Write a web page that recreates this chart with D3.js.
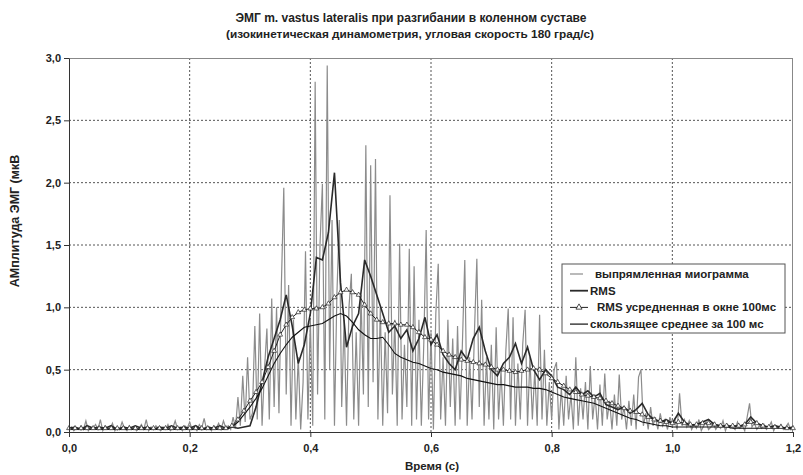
<!DOCTYPE html>
<html>
<head>
<meta charset="utf-8">
<script src="https://cdn.jsdelivr.net/npm/d3@7"></script>
<style>
  body { margin: 0; background: #fff; }
  text { font-family: "Liberation Sans", Arial, sans-serif; }
</style>
</head>
<body>
<div id="chart"></div>
<script>
// Данные

const rawStep = 0.004
const raw = [
  0.02,0.04,0.01,0.03,0.02,0.05,0.02,0.09,0.01,0.04,
  0.03,0.06,0.02,0.1,0.01,0.05,0.03,0.02,0.07,0.01,
  0.04,0.02,0.08,0.03,0.01,0.05,0.02,0.04,0.01,0.03,
  0.06,0.02,0.1,0.01,0.04,0.02,0.05,0.03,0.01,0.04,
  0.02,0.06,0.01,0.03,0.09,0.02,0.04,0.01,0.05,0.03,
  0.08,0.02,0.04,0.01,0.06,0.03,0.11,0.02,0.04,0.01,
  0.05,0.03,0.07,0.02,0.09,0.03,0.05,0.02,
  0.12,0.03,0.28,0.05,0.45,0.08,0.6,0.1,
  0.15,0.85,0.1,0.95,0.05,0.5,0.83,0.1,1.07,0.2,
  1.0,0.15,1.18,1.96,0.3,1.18,0.05,0.9,0.1,0.6,
  0.02,0.4,1.45,0.1,0.9,0.05,2.81,0.3,1.5,1.99,
  0.1,2.94,0.5,1.7,0.05,
  1.1,1.7,0.2,0.9,0.05,1.0,1.27,0.1,0.8,0.05,
  1.1,0.3,2.3,0.2,2.14,0.4,2.19,0.1,1.0,0.05,
  0.8,0.15,1.9,0.3,0.9,0.05,1.51,0.1,0.7,0.2,
  1.47,0.05,1.33,0.1,0.9,0.05,0.7,1.62,0.1,0.8,
  0.02,0.95,1.35,0.1,0.6,0.05,0.9,0.2,0.75,0.05,
  0.85,0.1,0.7,1.38,0.05,0.6,0.1,0.8,1.39,0.2,
  1.06,0.05,0.6,0.1,0.7,0.02,0.84,0.1,0.5,0.05,
  0.65,0.99,0.1,0.92,0.05,0.55,0.1,0.7,0.98,0.05,
  0.6,0.1,0.5,0.05,0.94,0.1,0.66,0.05,0.4,0.1,
  0.5,0.56,0.02,0.35,0.05,0.45,0.1,0.3,0.02,0.6,
  0.05,0.35,0.1,0.4,0.02,0.53,0.1,0.3,0.02,0.38,
  0.05,0.47,0.1,0.25,0.02,0.3,0.05,0.46,0.1,0.2,
  0.02,0.25,0.05,0.3,0.02,0.44,0.5,0.05,0.15,0.02,
  0.2,0.05,0.12,0.02,0.15,0.05,0.1,0.02,0.12,0.05,
  0.1,0.02,0.31,0.05,0.1,
  0.04,0.09,0.02,0.06,0.03,0.1,0.01,0.05,0.08,0.02,
  0.04,0.07,0.02,0.05,0.03,0.09,0.01,0.06,0.03,0.04,
  0.02,0.08,0.03,0.05,0.01,0.12,0.23,0.04,0.07,0.02,
  0.05,0.03,0.06,0.02,0.04,0.08,0.01,0.05,0.03,0.06,
  0.02,0.04,0.07,0.02,0.05
]

const smoothStep = 0.01
const rms = [
  0.03,0.04,0.02,0.05,0.03,0.04,0.03,0.05,0.02,0.04,
  0.03,0.05,0.03,0.04,0.02,0.04,0.03,0.05,0.03,0.04,
  0.03,0.05,0.02,0.04,0.03,0.05,0.03,0.04,0.03,0.04,
  0.05,0.2,0.4,0.6,0.75,0.9,1.1,0.85,0.55,0.7,
  0.95,1.4,1.38,1.6,2.08,1.2,0.68,0.85,0.95,1.38,
  1.25,1.1,0.95,0.8,0.85,0.75,0.82,0.65,0.75,0.92,
  0.7,0.78,0.62,0.55,0.5,0.65,0.58,0.75,0.84,0.65,
  0.5,0.45,0.55,0.6,0.71,0.55,0.68,0.5,0.42,0.5,
  0.45,0.36,0.34,0.3,0.36,0.3,0.33,0.28,0.31,0.22,
  0.2,0.18,0.2,0.15,0.18,0.23,0.14,0.1,0.08,0.1,
  0.07,0.15,0.08,0.05,0.06,0.08,0.1,0.06,0.05,0.04,
  0.05,0.04,0.06,0.12,0.07,0.05,0.04,0.05,0.04,0.03,
  0.04
]
const rmsAvg = [
  0.03,0.03,0.03,0.03,0.03,0.03,0.03,0.03,0.03,0.03,
  0.03,0.03,0.03,0.03,0.03,0.03,0.03,0.03,0.03,0.03,
  0.03,0.03,0.03,0.03,0.03,0.03,0.03,0.05,0.1,0.17,
  0.25,0.32,0.4,0.52,0.65,0.78,0.86,0.92,0.96,0.98,
  0.99,0.99,1.0,1.03,1.08,1.12,1.14,1.12,1.1,1.02,
  0.95,0.9,0.88,0.87,0.87,0.86,0.86,0.84,0.8,0.76,
  0.74,0.7,0.65,0.62,0.6,0.58,0.57,0.56,0.55,0.54,
  0.52,0.5,0.5,0.49,0.48,0.49,0.5,0.51,0.5,0.47,
  0.43,0.4,0.37,0.34,0.32,0.3,0.29,0.28,0.27,0.25,
  0.23,0.21,0.19,0.17,0.16,0.14,0.12,0.1,0.09,0.08,
  0.07,0.08,0.07,0.06,0.06,0.07,0.07,0.06,0.05,0.05,
  0.05,0.05,0.06,0.08,0.07,0.05,0.04,0.04,0.04,0.03,
  0.03
]
const movAvg = [
  0.02,0.02,0.02,0.02,0.02,0.02,0.02,0.02,0.02,0.02,
  0.02,0.02,0.02,0.02,0.02,0.02,0.02,0.02,0.02,0.02,
  0.02,0.02,0.02,0.02,0.02,0.02,0.02,0.04,0.08,0.14,
  0.2,0.27,0.35,0.45,0.55,0.63,0.7,0.76,0.8,0.84,
  0.85,0.86,0.87,0.9,0.93,0.95,0.93,0.88,0.82,0.78,
  0.75,0.75,0.76,0.7,0.63,0.6,0.58,0.56,0.55,0.53,
  0.51,0.5,0.48,0.47,0.46,0.45,0.43,0.42,0.41,0.4,
  0.39,0.38,0.38,0.37,0.36,0.36,0.36,0.35,0.35,0.34,
  0.32,0.3,0.28,0.27,0.26,0.25,0.24,0.23,0.21,0.19,
  0.17,0.15,0.13,0.11,0.1,0.08,0.07,0.06,0.05,0.05,
  0.04,0.04,0.04,0.04,0.04,0.04,0.04,0.04,0.04,0.04,
  0.03,0.03,0.03,0.03,0.03,0.03,0.03,0.03,0.03,0.03,
  0.03
]

const xTicks = [0, 0.2, 0.4, 0.6, 0.8, 1.0, 1.2]
const yTicks = [0, 0.5, 1.0, 1.5, 2.0, 2.5, 3.0]
const legendLabels = ["выпрямленная миограмма", "RMS", "RMS усредненная в окне 100мс", "скользящее среднее за 100 мс"]

// Размеры

const width = 803
const height = 475
const margin = {top: 58, right: 10, bottom: 43, left: 69}
const innerW = width - margin.left - margin.right
const innerH = height - margin.top - margin.bottom

const svg = d3.select("#chart").append("svg").attr("width", width).attr("height", height)
const g = svg.append("g").attr("transform", `translate(${margin.left},${margin.top})`)

const x = d3.scaleLinear().domain([0, 1.2]).range([0, innerW])
const y = d3.scaleLinear().domain([0, 3]).range([innerH, 0])
const fmt = v => d3.format(".1f")(v).replace(".", ",")

// Сетка

g.append("g").selectAll("line").data(yTicks.filter(d => d > 0 && d < 3))
  .join("line")
    .attr("x1", 0).attr("x2", innerW)
    .attr("y1", d => y(d)).attr("y2", d => y(d))
    .attr("stroke", "#555").attr("stroke-dasharray", "2,2")
g.append("g").selectAll("line").data(xTicks.filter(d => d > 0 && d < 1.2))
  .join("line")
    .attr("x1", d => x(d)).attr("x2", d => x(d))
    .attr("y1", 0).attr("y2", innerH)
    .attr("stroke", "#555").attr("stroke-dasharray", "2,2")

// рамка сверху и справа
g.append("line").attr("x1", 0).attr("x2", innerW).attr("y1", 0.5).attr("y2", 0.5).attr("stroke", "#888")
g.append("line").attr("x1", innerW - 0.5).attr("x2", innerW - 0.5).attr("y1", 0).attr("y2", innerH).attr("stroke", "#888")

// Линии

const line = step => d3.line().x((d, i) => x(i * step)).y(d => y(d))

g.append("path").datum(raw).attr("d", line(rawStep))
  .attr("fill", "none").attr("stroke", "#8c8c8c").attr("stroke-width", 1.2)
g.append("path").datum(rms).attr("d", line(smoothStep))
  .attr("fill", "none").attr("stroke", "#2a2a2a").attr("stroke-width", 1.6)
g.append("path").datum(movAvg).attr("d", line(smoothStep))
  .attr("fill", "none").attr("stroke", "#111").attr("stroke-width", 1.1)
g.append("path").datum(rmsAvg).attr("d", line(smoothStep))
  .attr("fill", "none").attr("stroke", "#222").attr("stroke-width", 1)

const tri = d3.symbol().type(d3.symbolTriangle).size(10)
g.append("g").selectAll("path").data(rmsAvg)
  .join("path")
    .attr("d", tri)
    .attr("transform", (d, i) => `translate(${x(i * smoothStep)},${y(d)})`)
    .attr("fill", "#fff").attr("stroke", "#222").attr("stroke-width", 0.7)

// Оси

const xAxis = d3.axisBottom(x).tickValues(xTicks).tickFormat(fmt).tickSizeInner(5).tickSizeOuter(0)
const yAxis = d3.axisLeft(y).tickValues(yTicks).tickFormat(fmt).tickSizeInner(5).tickSizeOuter(0)

const xg = g.append("g").attr("transform", `translate(0,${innerH})`).call(xAxis)
const yg = g.append("g").call(yAxis)
;[xg, yg].forEach(a => {
  a.select(".domain").attr("stroke", "#333")
  a.selectAll(".tick line").attr("stroke", "#333")
  a.selectAll("text").attr("font-size", 11).attr("font-weight", "bold").attr("fill", "#222")
    .style("font-family", "'Liberation Sans', Arial, sans-serif")
})
xg.selectAll("text").attr("dy", "1.1em")

// Подписи

svg.append("text").attr("x", 411).attr("y", 21.5).attr("text-anchor", "middle")
  .attr("font-size", 12).attr("font-weight", "bold").attr("fill", "#222")
  .text("ЭМГ m. vastus lateralis при разгибании в коленном суставе")
svg.append("text").attr("x", 410).attr("y", 37.5).attr("text-anchor", "middle")
  .attr("font-size", 11.8).attr("font-weight", "bold").attr("fill", "#222")
  .text("(изокинетическая динамометрия, угловая скорость 180 град/с)")
svg.append("text").attr("x", 432).attr("y", 470).attr("text-anchor", "middle")
  .attr("font-size", 11.5).attr("font-weight", "bold").attr("fill", "#222")
  .text("Время (с)")
svg.append("text").attr("transform", "translate(19,221) rotate(-90)").attr("text-anchor", "middle")
  .attr("font-size", 12.5).attr("font-weight", "bold").attr("fill", "#222")
  .text("АМплитуда ЭМГ (мкВ")

// Легенда

const legend = svg.append("g").attr("transform", "translate(562,264)")
legend.append("rect").attr("width", 223).attr("height", 69)
  .attr("fill", "#fff").attr("stroke", "#555")
const legendStyles = [
  {stroke: "#8c8c8c", w: 1.2, x1: 8, x2: 21, tx: 33},
  {stroke: "#2a2a2a", w: 1.8, x1: 8, x2: 26, tx: 28},
  {stroke: "#222", w: 1, x1: 8, x2: 26, tx: 35, mark: true},
  {stroke: "#111", w: 1.2, x1: 8, x2: 26, tx: 28}
]
const items = legend.selectAll("g").data(legendLabels).join("g")
  .attr("transform", (d, i) => `translate(0,${10 + i * 16.7})`)
items.append("line")
  .attr("x1", (d, i) => legendStyles[i].x1).attr("x2", (d, i) => legendStyles[i].x2)
  .attr("stroke", (d, i) => legendStyles[i].stroke).attr("stroke-width", (d, i) => legendStyles[i].w)
items.filter((d, i) => legendStyles[i].mark).append("path")
  .attr("d", d3.symbol().type(d3.symbolTriangle).size(16)).attr("transform", "translate(17,0)")
  .attr("fill", "#fff").attr("stroke", "#222").attr("stroke-width", 0.8)
items.append("text")
  .attr("x", (d, i) => legendStyles[i].tx).attr("dy", "0.35em")
  .attr("font-size", 11.5).attr("font-weight", "bold").attr("fill", "#222")
  .text(d => d)
</script>
</body>
</html>
